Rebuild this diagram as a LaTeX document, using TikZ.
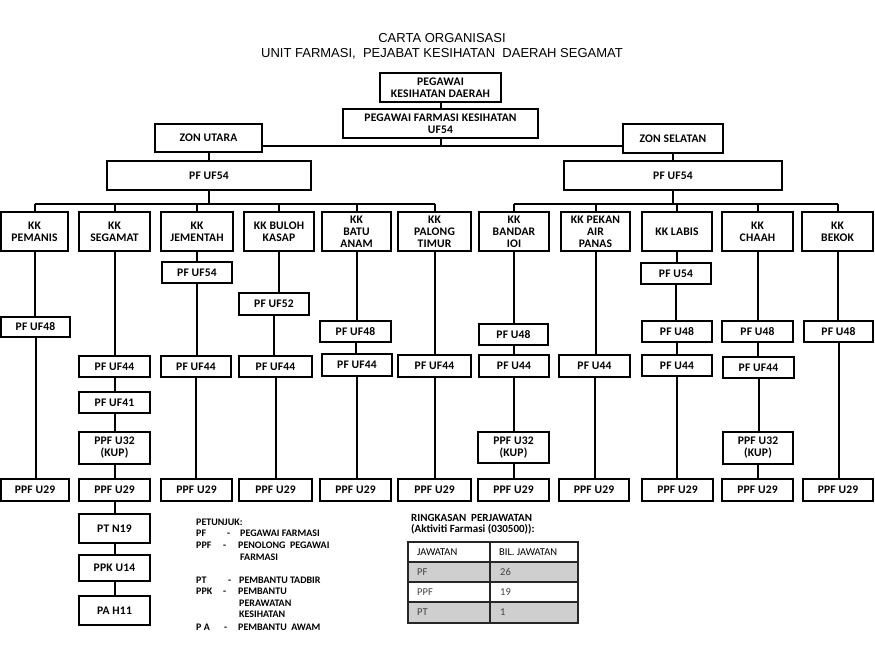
\documentclass[tikz,border=0pt]{standalone}
\usepackage{fontspec}
\setmainfont{Liberation Sans}
\newfontfamily\carl{Carlito}
\newfontfamily\carlsp{Carlito}[LetterSpace=1.5]
\usetikzlibrary{shadows}
\tikzset{
  box/.style={draw=black, line width=1.3pt, fill=white, align=center, inner sep=0pt,
    font=\carlsp\bfseries\fontsize{11.6}{12}\selectfont,
    drop shadow={shadow xshift=1.3pt, shadow yshift=-1.3pt, opacity=0.3, fill=black}},
  link/.style={line width=2pt, draw=black},
  legend/.style={anchor=base west, inner sep=0pt, font=\carl\bfseries\fontsize{10}{12}\selectfont},
  cell/.style={anchor=west, inner sep=0pt, font=\carl\fontsize{10.5}{12}\selectfont},
}
\newcommand{\OBox}[6]{\node[box, minimum width={(#4-#2)*1pt}, minimum height={(#5-#3)*1pt}] (#1) at ({(#2+#4)/2},{(#3+#5)/2}) {#6};}
\begin{document}
\begin{tikzpicture}[x=1pt,y=-1pt]
\useasboundingbox[fill=white] (0,0) rectangle (875,656);
% title
\node[font=\fontsize{13}{16}\selectfont, inner sep=0pt] (title1) at (442,38) {CARTA ORGANISASI};
\node[font=\fontsize{13}{16}\selectfont, inner sep=0pt] (title2) at (442,54) {UNIT FARMASI,\ \ PEJABAT KESIHATAN\ \ DAERAH SEGAMAT};
% top
\OBox{top}{380}{73}{501}{102}{PEGAWAI\\KESIHATAN DAERAH}
\OBox{far}{343}{109}{538}{138}{PEGAWAI FARMASI KESIHATAN\\UF54}
\OBox{zu}{155}{124}{262}{152}{ZON UTARA}
\OBox{zs}{623}{124}{723}{153}{ZON SELATAN}
\OBox{pl}{107}{161}{311}{190}{PF UF54}
\OBox{pr}{564}{161}{782}{190}{PF UF54}
% KK row
\OBox{k1}{1}{212}{68}{251}{KK\\PEMANIS}
\OBox{k2}{79}{212}{150}{251}{KK\\SEGAMAT}
\OBox{k3}{161}{212}{233}{251}{KK\\JEMENTAH}
\OBox{k4}{244}{212}{314}{251}{KK BULOH\\KASAP}
\OBox{k5}{322}{212}{391}{251}{KK\\BATU\\ANAM}
\OBox{k6}{398}{212}{471}{251}{KK\\PALONG\\TIMUR}
\OBox{k7}{479}{212}{549}{251}{KK\\BANDAR\\IOI}
\OBox{k8}{561}{212}{630}{251}{KK PEKAN\\AIR\\PANAS}
\OBox{k9}{642}{212}{712}{251}{KK LABIS}
\OBox{k10}{722}{212}{793}{251}{KK\\CHAAH}
\OBox{k11}{802}{212}{873}{251}{KK\\BEKOK}
% Pemanis
\OBox{a1}{1}{317}{70}{337}{PF UF48}
\OBox{a2}{1}{479}{69}{501}{PPF U29}
% Segamat
\OBox{b1}{79}{356}{150}{377}{PF UF44}
\OBox{b2}{79}{392}{150}{413}{PF UF41}
\OBox{b3}{79}{432}{150}{464}{PPF U32\\(KUP)}
\OBox{b4}{79}{479}{150}{501}{PPF U29}
\OBox{b5}{79}{514}{150}{543}{PT N19}
\OBox{b6}{79}{555}{150}{581}{PPK U14}
\OBox{b7}{79}{596}{150}{625}{PA H11}
% Jementah
\OBox{c1}{162}{262}{232}{283}{PF UF54}
\OBox{c2}{161}{356}{231}{377}{PF UF44}
\OBox{c3}{161}{479}{232}{501}{PPF U29}
% Buloh Kasap
\OBox{d1}{239}{293}{309}{315}{PF UF52}
\OBox{d2}{239}{356}{312}{377}{PF UF44}
\OBox{d3}{239}{479}{312}{501}{PPF U29}
% Batu Anam
\OBox{e1}{320}{321}{391}{342}{PF UF48}
\OBox{e2}{322}{354}{392}{376}{PF UF44}
\OBox{e3}{320}{479}{391}{501}{PPF U29}
% Palong Timur
\OBox{f1}{398}{355}{471}{377}{PF UF44}
\OBox{f2}{398}{479}{471}{501}{PPF U29}
% Bandar IOI
\OBox{g1}{479}{324}{548}{345}{PF U48}
\OBox{g2}{479}{355}{549}{377}{PF U44}
\OBox{g3}{478}{432}{549}{463}{PPF U32\\(KUP)}
\OBox{g4}{478}{479}{549}{501}{PPF U29}
% Pekan Air Panas
\OBox{h1}{559}{355}{630}{377}{PF U44}
\OBox{h2}{559}{479}{629}{501}{PPF U29}
% Labis
\OBox{i1}{641}{263}{711}{284}{PF U54}
\OBox{i2}{642}{321}{712}{342}{PF U48}
\OBox{i3}{642}{355}{712}{376}{PF U44}
\OBox{i4}{642}{479}{713}{501}{PPF U29}
% Chaah
\OBox{j1}{722}{321}{793}{342}{PF U48}
\OBox{j2}{723}{357}{794}{378}{PF UF44}
\OBox{j3}{723}{432}{793}{464}{PPF U32\\(KUP)}
\OBox{j4}{722}{479}{793}{501}{PPF U29}
% Bekok
\OBox{l1}{804}{321}{873}{342}{PF U48}
\OBox{l2}{803}{479}{873}{501}{PPF U29}
% connectors top
\coordinate (busZ) at (440,146);
\coordinate (busK) at (0,204);
\draw[link] (top.south) -- (top.south |- far.north);
\draw[link] (far.south) -- (far.south |- busZ);
\draw[link] (zu.east |- busZ) -- (zs.west |- busZ);
\draw[link] (zu.south) -- (zu.south |- pl.north);
\draw[link] (zs.south) -- (zs.south |- pr.north);
\draw[link] (pl.south) -- (pl.south |- busK);
\draw[link] (pr.south) -- (pr.south |- busK);
\draw[link] (k1.north |- busK) -- (k6.north |- busK);
\draw[link] (k7.north |- busK) -- (k11.north |- busK);
\foreach \k in {k1,k2,k3,k4,k5,k6,k7,k8,k9,k10,k11}
  \draw[link] (\k.north) -- (\k.north |- busK);
% column connectors
\foreach \p/\q in {k1/a1,a1/a2,
  k2/b1,b1/b2,b2/b3,b3/b4,b4/b5,b5/b6,b6/b7,
  k3/c1,c1/c2,c2/c3,
  k4/d1,d1/d2,d2/d3,
  k5/e1,e1/e2,e2/e3,
  k6/f1,f1/f2,
  k7/g1,g1/g2,g2/g3,g3/g4,
  k8/h1,h1/h2,
  k9/i1,i1/i2,i2/i3,i3/i4,
  k10/j1,j1/j2,j2/j3,j3/j4,
  k11/l1,l1/l2}
  \draw[link] (\p.south) -- (\p.south |- \q.north);
% legend
\node[legend] (lg0) at (196,525) {PETUNJUK:};
\node[legend] (lg1a) at (196,536) {PF};
\node[legend] (lg1b) at (227,536) {-};
\node[legend] (lg1c) at (240,536) {PEGAWAI FARMASI};
\node[legend] (lg2a) at (196,548) {PPF};
\node[legend] (lg2b) at (223,548) {-};
\node[legend] (lg2c) at (238,548) {PENOLONG\ \ PEGAWAI};
\node[legend] (lg2d) at (240,560.5) {FARMASI};
\node[legend] (lg3a) at (196,583) {PT};
\node[legend] (lg3b) at (228,583) {-};
\node[legend] (lg3c) at (239,583) {PEMBANTU TADBIR};
\node[legend] (lg4a) at (196,594) {PPK};
\node[legend] (lg4b) at (223,594) {-};
\node[legend] (lg4c) at (238,594) {PEMBANTU};
\node[legend] (lg4d) at (239,606) {PERAWATAN};
\node[legend] (lg4e) at (239,617.5) {KESIHATAN};
\node[legend] (lg5a) at (196,630) {P A};
\node[legend] (lg5b) at (224,630) {-};
\node[legend] (lg5c) at (238,630) {PEMBANTU\ \ AWAM};
% summary
\node[legend, font=\carl\bfseries\fontsize{11}{12}\selectfont] (rs1) at (411,521) {RINGKASAN\ \ PERJAWATAN};
\node[legend, font=\carl\bfseries\fontsize{11}{12}\selectfont] (rs2) at (411,532) {(Aktiviti Farmasi (030500)):};
\fill[gray!38] (408,562) rectangle (578,582);
\fill[gray!38] (408,602) rectangle (578,623);
\draw[line width=1.2pt, black!85] (408,542) rectangle (578,623);
\draw[line width=1.2pt, black!85] (408,582) -- (578,582);
\draw[line width=1.2pt, black!85] (408,602) -- (578,602);
\draw[line width=1.2pt, black!85] (490,542) -- (490,623);
\draw[line width=2.4pt, black!85] (408,562) -- (578,562);
\node[cell] (th1) at (417,552) {JAWATAN};
\node[cell] (th2) at (499,552) {BIL. JAWATAN};
\node[cell, text=black!75] (r1a) at (417,572) {PF};
\node[cell, text=black!75] (r1b) at (500,572) {26};
\node[cell, text=black!75] (r2a) at (417,592) {PPF};
\node[cell, text=black!75] (r2b) at (500,592) {19};
\node[cell, text=black!75] (r3a) at (417,612.5) {PT};
\node[cell, text=black!75] (r3b) at (500,612.5) {1};
\end{tikzpicture}
\end{document}
